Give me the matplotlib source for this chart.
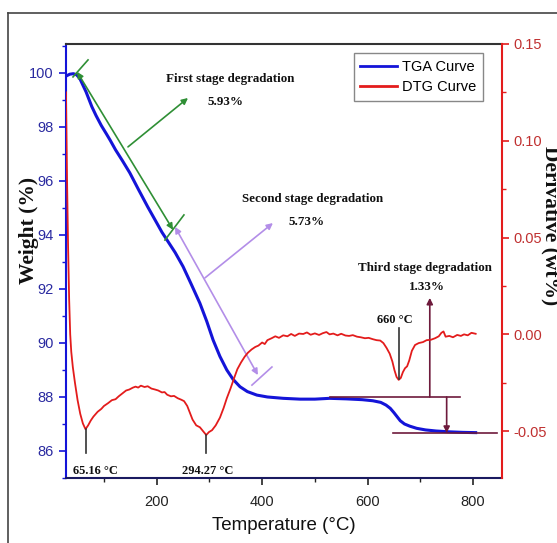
import matplotlib
matplotlib.use("Agg")
import matplotlib.pyplot as plt
from matplotlib.lines import Line2D
from matplotlib.ticker import MultipleLocator

# ---------------- data ----------------
tga_temp = [28, 35, 42, 48, 54, 60, 66, 72, 77, 85, 95, 105, 112, 122, 135, 149, 165, 183,
            200, 210, 220, 235, 250, 265, 282, 295, 307, 320, 333, 345, 358, 372, 390, 410,
            440, 472, 500, 528, 560, 590, 610, 625, 635, 643, 650, 656, 662, 670, 680, 693,
            710, 730, 755, 780, 805]
tga_weight = [99.88, 99.95, 99.97, 99.93, 99.8, 99.55, 99.3, 99.0, 98.75, 98.42, 98.05, 97.73,
              97.5, 97.15, 96.75, 96.3, 95.7, 95.04, 94.45, 94.1, 93.8, 93.35, 92.83, 92.2,
              91.47, 90.8, 90.11, 89.5, 89.0, 88.65, 88.38, 88.2, 88.07, 88.0, 87.95, 87.92,
              87.92, 87.95, 87.93, 87.9, 87.86, 87.8, 87.7, 87.58, 87.42, 87.27, 87.12, 87.0,
              86.92, 86.84, 86.78, 86.74, 86.71, 86.69, 86.68]

dtg_temp = [28, 30, 32, 34, 36, 38, 41, 45, 50, 55, 60, 65, 70, 75, 80, 88, 95, 100, 108, 115,
            122, 128, 135, 142, 148, 155, 160, 165, 170, 177, 183, 190, 197, 203, 210, 215,
            220, 227, 233, 240, 247, 252, 258, 263, 268, 275, 282, 288, 294, 299, 305, 312,
            320, 327, 333, 340, 347, 353, 360, 367, 373, 380, 387, 393, 400, 405, 410, 418,
            425, 432, 440, 448, 455, 462, 470, 478, 485, 492, 500, 508, 515, 522, 528, 535,
            543, 550, 558, 565, 572, 580, 587, 595, 602, 610, 617, 624, 630, 636, 642, 647,
            651, 655, 659, 663, 667, 671, 675, 679, 684, 690, 697, 705, 712, 720, 728, 735,
            740, 744, 748, 755, 762, 770, 777, 783, 790, 797, 805]
dtg_deriv = [0.125, 0.08, 0.045, 0.018, 0.0, -0.009, -0.017, -0.025, -0.034, -0.041, -0.046,
             -0.049, -0.047, -0.0445, -0.0425, -0.040, -0.0385, -0.037, -0.0355, -0.034,
             -0.0335, -0.032, -0.0305, -0.029, -0.0285, -0.0275, -0.0270, -0.0275, -0.0265,
             -0.0272, -0.0268, -0.0280, -0.0285, -0.0290, -0.0300, -0.0298, -0.0312, -0.0320,
             -0.0318, -0.0330, -0.0338, -0.0345, -0.0370, -0.0405, -0.0440, -0.0470, -0.0480,
             -0.0500, -0.0520, -0.0505, -0.0495, -0.0470, -0.0430, -0.0380, -0.0330, -0.0280,
             -0.0225, -0.0180, -0.0145, -0.0115, -0.0095, -0.0078, -0.0065, -0.0058, -0.0042,
             -0.0050, -0.0030, -0.0020, -0.0010, -0.0018, -0.0005, -0.0010, 0.0002, -0.0008,
             0.0004, 0.0002, 0.0010, -0.0002, 0.0005, -0.0003, 0.0006, 0.0012, 0.0000, 0.0004,
             -0.0005, 0.0003, -0.0006, -0.0008, -0.0004, -0.0012, -0.0015, -0.0020, -0.0018,
             -0.0025, -0.0030, -0.0032, -0.0045, -0.0070, -0.0100, -0.0140, -0.0185, -0.0220,
             -0.0235, -0.0225, -0.0195, -0.0175, -0.0165, -0.0135, -0.0085, -0.0055, -0.0045,
             -0.0040, -0.0030, -0.0028, -0.0020, -0.0010, 0.0008, 0.0015, -0.0012, -0.0008,
             -0.0015, -0.0003, -0.0008, 0.0000, -0.0005, 0.0008, 0.0003]

peak_temps = [65.16, 294.27, 660]
peak_labels = ["65.16 °C", "294.27 °C", "660 °C"]
stage_titles = ["First stage degradation", "Second stage degradation", "Third stage degradation"]
stage_losses = ["5.93%", "5.73%", "1.33%"]
x_ticks = [200, 400, 600, 800]
y_ticks = [86, 88, 90, 92, 94, 96, 98, 100]
y2_ticks = [-0.05, 0.00, 0.05, 0.10, 0.15]

# ---------------- style ----------------
BLUE = "#1414d8"
RED = "#e31c1c"
GREEN = "#2f8f35"
PURPLE = "#b38ee8"
MAROON = "#6e1a3c"
SANS = "Liberation Sans"
SERIF = "Liberation Serif"

fig = plt.figure(figsize=(5.57, 5.43), dpi=100)
ax = fig.add_axes([0.118, 0.1197, 0.7833, 0.7993])
ax2 = ax.twinx()

l1, = ax.plot(tga_temp, tga_weight, color=BLUE, lw=2.2, zorder=3)
l2, = ax2.plot(dtg_temp, dtg_deriv, color=RED, lw=1.3, zorder=3)

ax.set_xlim(27.5, 855)
ax.set_ylim(85.0, 101.07)
ax2.set_ylim(-0.0742, 0.15)

ax.set_xticks(x_ticks)
ax.xaxis.set_minor_locator(MultipleLocator(100))
ax.set_yticks(y_ticks)
ax.yaxis.set_minor_locator(MultipleLocator(1))
ax2.set_yticks(y2_ticks)
ax2.yaxis.set_minor_locator(MultipleLocator(0.025))
ax2.set_yticklabels([f"{v:.2f}" for v in y2_ticks])

for sp in ["left", "right", "top", "bottom"]:
    ax2.spines[sp].set_visible(sp == "right")
ax.spines["right"].set_visible(False)
ax.spines["left"].set_color(BLUE)
ax.spines["top"].set_color("#333333")
ax.spines["bottom"].set_color("#1a1a60")
ax2.spines["right"].set_color(RED)
for sp in ax.spines.values():
    sp.set_linewidth(1.5)
ax2.spines["right"].set_linewidth(1.5)

ax.tick_params(axis="x", which="major", direction="out", length=5, width=1.2,
               color="#222222", labelsize=10.5, labelcolor="#222222", pad=7)
ax.tick_params(axis="x", which="minor", direction="out", length=3, width=1.0, color="#222222")
ax.tick_params(axis="y", which="major", direction="out", length=5, width=1.2,
               color=BLUE, labelsize=10.5, labelcolor="#2a2aa0")
ax.tick_params(axis="y", which="minor", direction="out", length=3, width=1.0, color=BLUE)
ax2.tick_params(axis="y", which="major", direction="out", length=5, width=1.2,
                color=RED, labelsize=10.5, labelcolor="#c03030")
ax2.tick_params(axis="y", which="minor", direction="out", length=3, width=1.0, color=RED)
for lab in ax.get_xticklabels() + ax.get_yticklabels() + ax2.get_yticklabels():
    lab.set_family(SANS)

ax.set_xlabel("Temperature (°C)", family=SANS, fontsize=13.5, color="#111111")
ax.xaxis.set_label_coords(0.5, -0.09)
ax.set_ylabel("Weight (%)", family=SERIF, fontweight="bold", fontsize=15.5, color="#111111")
ax.yaxis.set_label_coords(-0.062, 0.571)
fig.text(0.989, 0.584, "Derivative (wt%)", family=SERIF, fontweight="bold", fontsize=15.5,
         rotation=270, ha="center", va="center", color="#111111")

# legend
leg = ax2.legend([l1, l2], ["TGA Curve", "DTG Curve"], loc="upper right",
                 bbox_to_anchor=(0.956, 0.979), fancybox=False, framealpha=1,
                 edgecolor="#888888", prop={"family": SANS, "size": 10.5},
                 handlelength=2.5, handletextpad=0.35, labelspacing=0.45,
                 borderpad=0.45, borderaxespad=0)
leg.get_frame().set_linewidth(1.0)
for h in leg.get_lines():
    h.set_linewidth(2.0)

# ---------------- annotations ----------------
def arrow(a, start, end, color, style="-|>", lw=1.2, ms=9):
    a.annotate("", xy=end, xytext=start,
               arrowprops=dict(arrowstyle=style, color=color, lw=lw, shrinkA=0, shrinkB=0,
                               mutation_scale=ms), zorder=4)

def seg(a, p, q, color, lw=1.2):
    a.plot([p[0], q[0]], [p[1], q[1]], color=color, lw=lw, zorder=4)

# stage 1 (green)
arrow(ax, (49, 100.04), (231, 94.19), GREEN, style="<|-|>")
seg(ax, (41.3, 99.85), (69.8, 100.48), GREEN)
seg(ax, (215.7, 93.81), (251.7, 94.74), GREEN)
arrow(ax, (145.6, 97.26), (259.4, 99.07), GREEN)

# stage 2 (purple)
arrow(ax, (234.7, 94.3), (392, 88.81), PURPLE, style="<|-|>")
seg(ax, (380.7, 88.44), (418.6, 89.11), PURPLE)
arrow(ax, (291.6, 92.41), (420.5, 94.44), PURPLE)

# stage 3 (maroon)
seg(ax, (529, 88.0), (775, 88.0), MAROON)
seg(ax, (648, 86.67), (845, 86.67), MAROON)
arrow(ax, (750, 88.0), (750, 86.67), MAROON)
arrow(ax, (718, 88.0), (718, 91.67), MAROON)

txt = dict(family=SERIF, fontweight="bold", fontsize=9.4, ha="center", va="center",
           color="#111111", zorder=5)
ax.text(339, 99.78, stage_titles[0], **txt)
ax.text(330, 98.92, stage_losses[0], **txt)
ax.text(495, 95.33, stage_titles[1], **txt)
ax.text(485, 94.48, stage_losses[1], **txt)
ax.text(709, 92.78, stage_titles[2], **txt)
ax.text(713, 92.07, stage_losses[2], **txt)

# DTG peak markers (black)
BLK = "#333333"
ptxt = dict(txt, fontsize=9)
ax2.plot([peak_temps[0], peak_temps[0]], [-0.0490, -0.0613], color=BLK, lw=1.2, zorder=4)
ax2.plot([peak_temps[1], peak_temps[1]], [-0.0522, -0.0613], color=BLK, lw=1.2, zorder=4)
ax2.plot([peak_temps[2], peak_temps[2]], [-0.0232, 0.0031], color=BLK, lw=1.2, zorder=4)
ax2.text(84, -0.0705, peak_labels[0], **ptxt)
ax2.text(297, -0.0705, peak_labels[1], **ptxt)
ax2.text(652, 0.0072, peak_labels[2], **ptxt)

# outer frame lines
fig.add_artist(Line2D([8 / 557, 8 / 557], [0, 1 - 13 / 543], transform=fig.transFigure,
                      color="#444444", lw=1.2))
fig.add_artist(Line2D([8 / 557, 1], [1 - 13 / 543, 1 - 13 / 543], transform=fig.transFigure,
                      color="#444444", lw=1.2))

fig.savefig("out.png", dpi=100)
